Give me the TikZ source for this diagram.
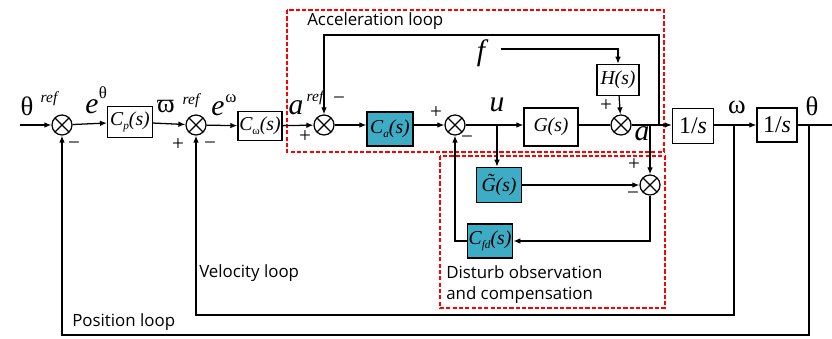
\documentclass[tikz,border=0pt]{standalone}
\usepackage{fontspec}
\setsansfont{Open Sans}
\newfontfamily\tms{Liberation Serif}
\usetikzlibrary{arrows.meta}
\definecolor{boxteal}{RGB}{62,172,197}
\newcommand{\sbs}[1]{\raisebox{-0.45ex}{\fontsize{8}{8}\selectfont #1}}

\tikzset{
  blk/.style={draw, line width=0.9pt, minimum width=1.1cm, minimum height=0.8cm, inner sep=1pt,
    font=\tms\itshape\fontsize{14}{14}\selectfont},
  tealblk/.style={blk, fill=boxteal},
  sumnode/.style={circle, draw, line width=0.9pt, minimum size=0.5cm, inner sep=0pt,
    path picture={\draw[line width=0.9pt] (path picture bounding box.north west) -- (path picture bounding box.south east)
      (path picture bounding box.north east) -- (path picture bounding box.south west);}},
  wire/.style={line width=0.9pt},
  arr/.style={wire, -{Latex[length=5pt,width=4pt]}},
  sig/.style={font=\tms\itshape\fontsize{21}{21}\selectfont, inner sep=0pt},
  greek/.style={font=\tms\fontsize{19}{19}\selectfont, inner sep=0pt},
  supl/.style={font=\tms\itshape\fontsize{11}{11}\selectfont, inner sep=0pt},
  pm/.style={font=\tms\fontsize{15}{15}\selectfont, inner sep=0pt},
  loopbox/.style={draw=red, line width=0.8pt, dash pattern=on 3pt off 1.5pt},
  looplbl/.style={font=\sffamily\fontsize{12}{15}\selectfont, anchor=west, inner sep=0pt},
}

\begin{document}
\begin{tikzpicture}[x=0.025cm, y=-0.025cm]
  \useasboundingbox (0,0) rectangle (832,339);

  % loop frames
  \draw[loopbox] (287,10) rectangle (664,152);
  \draw[loopbox] (440,156) rectangle (665,308);
  \node[looplbl] (acclbl) at (307,21) {Acceleration loop};
  \node[looplbl, anchor=north west, align=left] (dislbl) at (446,265) {Disturb observation\\and compensation};
  \node[looplbl] (vellbl) at (199,273) {Velocity loop};
  \node[looplbl] (poslbl) at (72,322) {Position loop};

  % blocks and summing points
  \node[sumnode] (s1) at (62,125) {};
  \node[blk, minimum width=1.12cm, minimum height=0.78cm] (cp) at (130,122) {C\sbs{p}(s)};
  \node[sumnode] (s2) at (196,125) {};
  \node[blk, minimum width=1.1cm, minimum height=0.72cm] (cw) at (260,126) {C\sbs{\upshape ω}(s)};
  \node[sumnode] (s3) at (324,125) {};
  \node[tealblk, minimum width=1.15cm, minimum height=0.85cm] (ca) at (390,129) {C\sbs{a}(s)};
  \node[sumnode] (s4) at (455,125) {};
  \node[blk, minimum width=1.35cm, minimum height=0.95cm] (g) at (551,127) {G(s)};
  \node[blk, minimum width=1.05cm, minimum height=0.78cm] (h) at (618,80) {H(s)};
  \node[sumnode] (s5) at (621,125) {};
  \node[blk, font=\tms\fontsize{17}{17}\selectfont, minimum width=1.03cm, minimum height=0.88cm] (i1) at (693,126) {1/\textit{s}};
  \node[blk, font=\tms\fontsize{17}{17}\selectfont, minimum width=1.0cm, minimum height=0.85cm] (i2) at (777,125) {1/\textit{s}};
  \node[tealblk, minimum width=1.12cm, minimum height=0.88cm] (gt) at (499,185) {G̃(s)};
  \node[sumnode] (s6) at (650,185) {};
  \node[tealblk, minimum width=1.12cm, minimum height=0.85cm] (cfd) at (490,241) {C\sbs{fd}(s)};

  \coordinate (in) at (20,125);
  \coordinate (out) at (832,125);
  \coordinate (ub) at (497,125);
  \coordinate (ab) at (650,125);
  \coordinate (ta) at (659,125);
  \coordinate (wb) at (734,125);
  \coordinate (tb) at (809,125);

  % forward path
  \draw[arr] (in) -- (s1);
  \draw[arr] (s1) -- (cp);
  \draw[arr] (cp) -- (s2);
  \draw[arr] (s2) -- (cw);
  \draw[arr] (cw) -- (s3);
  \draw[arr] (s3) -- (s3 -| ca.west);
  \draw[arr] (s4 -| ca.east) -- (s4);
  \draw[arr] (s4) -- (s4 -| g.west);
  \draw[wire] (s5 -| g.east) -- (s5);
  \draw[arr] (s5) -- (s5 -| i1.west);
  \draw[arr] (s5 -| i1.east) -- (s5 -| i2.west);
  \draw[wire] (s5 -| i2.east) -- (out);

  % disturbance input
  \node[sig] (f) at (481,53) {f};
  \draw[arr] (501,49) -| (h);
  \draw[arr] (h) -- (s5);

  % acceleration feedback
  \draw[arr] (ta) -- ++(0,-90) -| (s3);

  % disturbance observer
  \draw[arr] (ub) -- (ub |- gt.north);
  \draw[arr] (ab) -- (s6);
  \draw[arr] (gt) -- (s6);
  \draw[arr] (s6) |- (cfd);
  \draw[arr] (cfd) -| (s4);

  % velocity and position feedback
  \draw[arr] (wb) -- ++(0,190) -| (s2);
  \draw[arr] (tb) -- ++(0,210) -| (s1);

  % signal labels
  \node[greek] (lth) at (27,106) {θ};
  \node[supl] (lthr) at (49,99) {ref};
  \node[sig] (leth) at (92,107) {e};
  \node[greek, font=\tms\fontsize{12}{12}\selectfont] (lethp) at (103,93) {θ};
  \node[greek] (lvp) at (166,107) {ϖ};
  \node[supl] (lvpr) at (191,101) {ref};
  \node[sig] (lew) at (218,109) {e};
  \node[greek, font=\tms\fontsize{12}{12}\selectfont] (lewp) at (231,99) {ω};
  \node[sig] (la) at (296,108) {a};
  \node[supl] (lar) at (315,98) {ref};
  \node[sig] (lu) at (497,105) {u};
  \node[sig] (lacc) at (642,134) {a};
  \node[greek] (lw) at (737,107) {ω};
  \node[greek] (lthout) at (812,106) {θ};

  % signs
  \node[pm] (m1) at (74,146) {−};
  \node[pm] (p2) at (178,145) {+};
  \node[pm] (m2) at (210,146) {−};
  \node[pm] (m3) at (339,101) {−};
  \node[pm] (p3) at (305,137) {+};
  \node[pm] (p4) at (436,113) {+};
  \node[pm] (m4) at (467,140) {−};
  \node[pm] (p5) at (606,106) {+};
  \node[pm] (p6) at (634,165) {+};
  \node[pm] (m6) at (633,196) {−};
\end{tikzpicture}
\end{document}
